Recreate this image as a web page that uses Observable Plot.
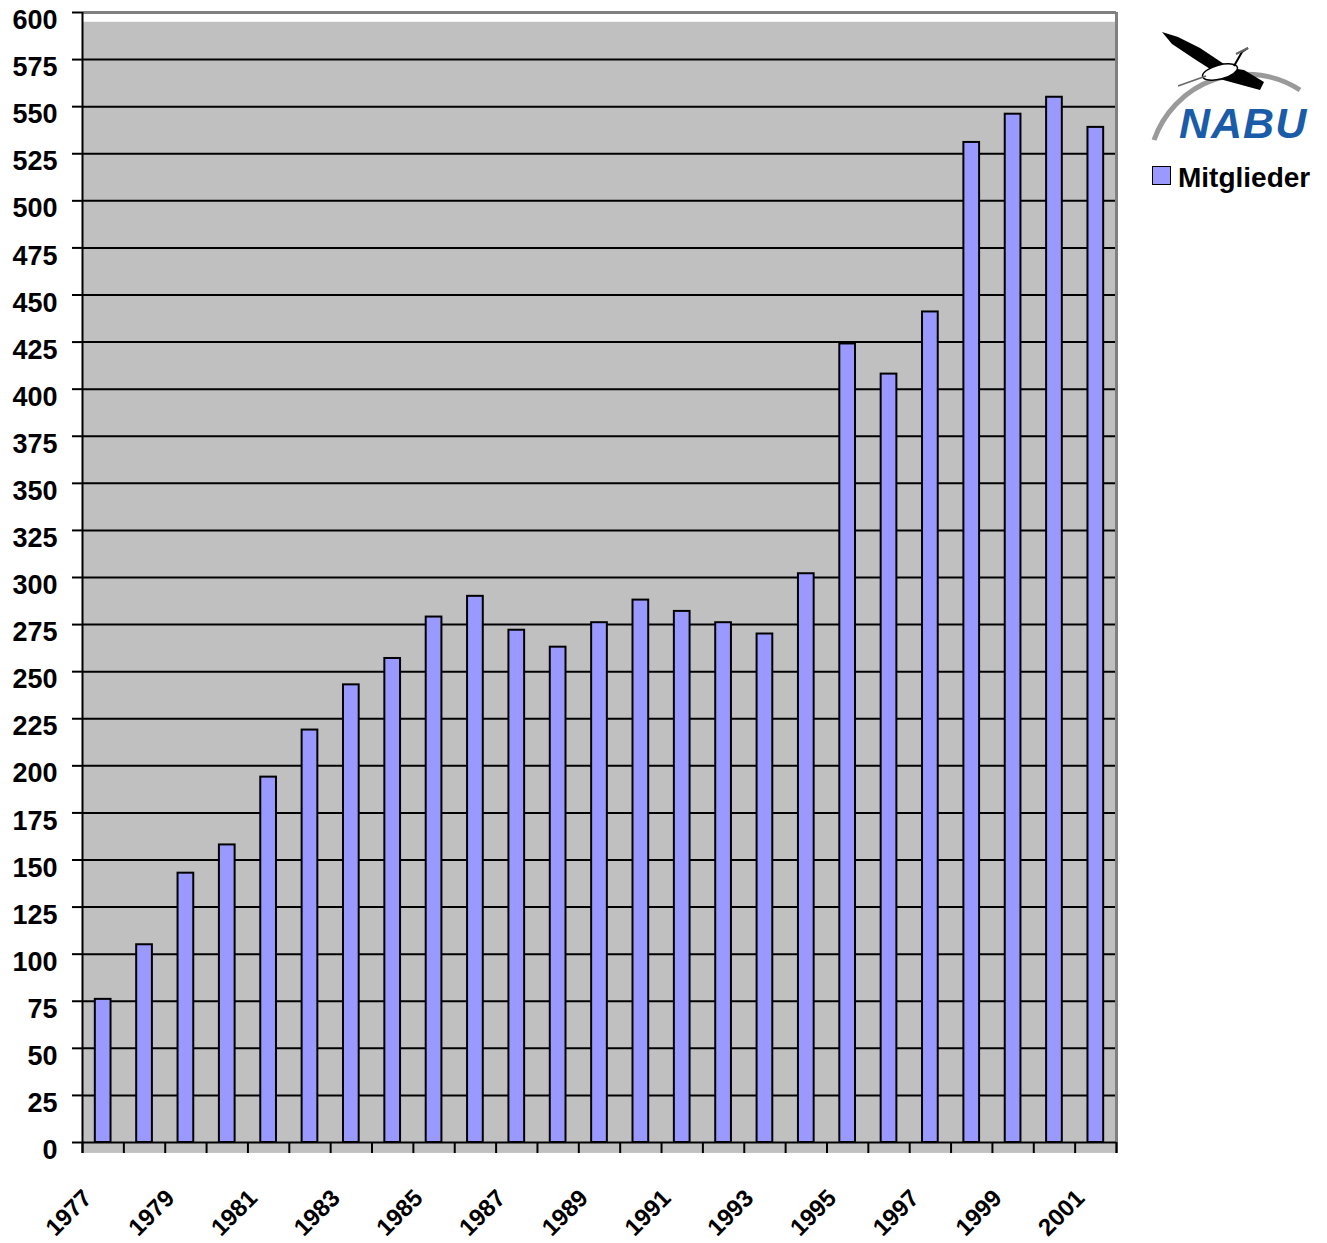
<!DOCTYPE html>
<html>
<head>
<meta charset="utf-8">
<script src="https://cdn.jsdelivr.net/npm/d3@7"></script>
<script src="https://cdn.jsdelivr.net/npm/@observablehq/plot@0.6"></script>
<style>
  html, body { margin: 0; padding: 0; background: white; }
  #wrap { position: relative; width: 1327px; height: 1243px; font-family: "Liberation Sans", Arial, sans-serif; }
  #legend { position: absolute; left: 1152px; top: 162px; display: flex; align-items: center; font-weight: bold; font-size: 28px; color: black; }
  #legend .sw { width: 17px; height: 17px; background: #9999ff; border: 1.5px solid black; margin-right: 7px; margin-top: -6px; }
  #logo { position: absolute; left: 1148px; top: 28px; overflow: visible; }
</style>
</head>
<body>
<div id="wrap">
  <svg id="logo" width="178" height="128" viewBox="0 0 178 128">
    <path d="M 6 112 A 98 98 0 0 1 152 62" fill="none" stroke="#9a9a9a" stroke-width="5"/>
    <path d="M 14 4 L 30 9 L 52 20 L 76 36 L 70 46 L 48 32 L 24 16 Z" fill="black"/>
    <path d="M 70 38 L 96 42 L 116 54 L 112 62 L 90 56 L 68 50 Z" fill="black"/>
    <ellipse cx="72" cy="44" rx="18" ry="7" transform="rotate(-15 72 44)" fill="white" stroke="black" stroke-width="1.5"/>
    <path d="M 86 38 L 94 24 L 100 20" fill="none" stroke="black" stroke-width="2"/>
    <path d="M 100 20 L 88 26" fill="none" stroke="#666" stroke-width="2"/>
    <path d="M 58 48 L 30 58" fill="none" stroke="#666" stroke-width="1.5"/>
    <text x="31" y="110" font-family="Liberation Sans, Arial, sans-serif" font-weight="bold" font-style="italic" font-size="43" fill="#1a5ca8" letter-spacing="1">NABU</text>
  </svg>
  <div id="legend"><div class="sw"></div><span>Mitglieder</span></div>
</div>
<script>
// Data
const years = [1977,1978,1979,1980,1981,1982,1983,1984,1985,1986,1987,1988,1989,1990,1991,1992,1993,1994,1995,1996,1997,1998,1999,2000,2001];
const members = [76,105,143,158,194,219,243,257,279,290,272,263,276,288,282,276,270,302,424,408,441,531,546,555,539];
const labelYears = [1977,1979,1981,1983,1985,1987,1989,1991,1993,1995,1997,1999,2001];
const yTicks = d3.range(0, 601, 25);
const gridValues = d3.range(25, 600, 25);
const xBoundaries = d3.range(1976.5, 2002, 1);
const xExtent = [1976.5, 2001.5];
const bgExtent = [-5.8, 594.8];

const data = years.map((year, i) => ({year, value: members[i]}));

const chart = Plot.plot({
  width: 1327,
  height: 1243,
  marginLeft: 82,
  marginRight: 211,
  marginTop: 12,
  marginBottom: 101,
  x: {type: "linear", domain: xExtent, axis: null},
  y: {domain: [0, 600], axis: null},
  style: {fontFamily: "Liberation Sans, Arial, sans-serif", fontWeight: "bold", background: "transparent", overflow: "visible", color: "black"},
  marks: [
    Plot.rect([0], {x1: () => xExtent[0], x2: () => xExtent[1], y1: () => bgExtent[0], y2: () => bgExtent[1], fill: "#c0c0c0"}),
    Plot.ruleY(gridValues, {stroke: "black", strokeWidth: 2}),
    Plot.ruleY([600], {stroke: "#808080", strokeWidth: 3}),
    Plot.ruleX([xExtent[1]], {y1: () => bgExtent[0], y2: () => 600, stroke: "#808080", strokeWidth: 3}),
    Plot.rectY(data, {x1: d => d.year - 0.19, x2: d => d.year + 0.19, y: "value", fill: "#9999ff", stroke: "black", strokeWidth: 2}),
    Plot.ruleY([0], {stroke: "black", strokeWidth: 2}),
    Plot.ruleX([xExtent[0]], {y1: () => bgExtent[0], y2: () => 600, stroke: "black", strokeWidth: 2}),
    Plot.axisY(yTicks, {tickSize: 10, tickFormat: () => "", label: null, strokeWidth: 2, stroke: "black"}),
    Plot.axisX(xBoundaries, {tickSize: 11, tickFormat: () => "", label: null, strokeWidth: 2, stroke: "black"}),
    Plot.text(yTicks, {y: d => d, frameAnchor: "left", dx: -25, dy: 8, textAnchor: "end", text: d => String(d), fontSize: 27, fontWeight: "bold", fill: "black"}),
    Plot.text(labelYears, {x: d => d, y: () => 0, text: d => String(d), rotate: -45, textAnchor: "end", lineAnchor: "top", dx: -22, dy: 45, fontSize: 24, fontWeight: "bold", fill: "black"})
  ]
});
chart.style.position = "absolute";
chart.style.left = "0px";
chart.style.top = "0px";
document.getElementById("wrap").prepend(chart);
</script>
</body>
</html>
